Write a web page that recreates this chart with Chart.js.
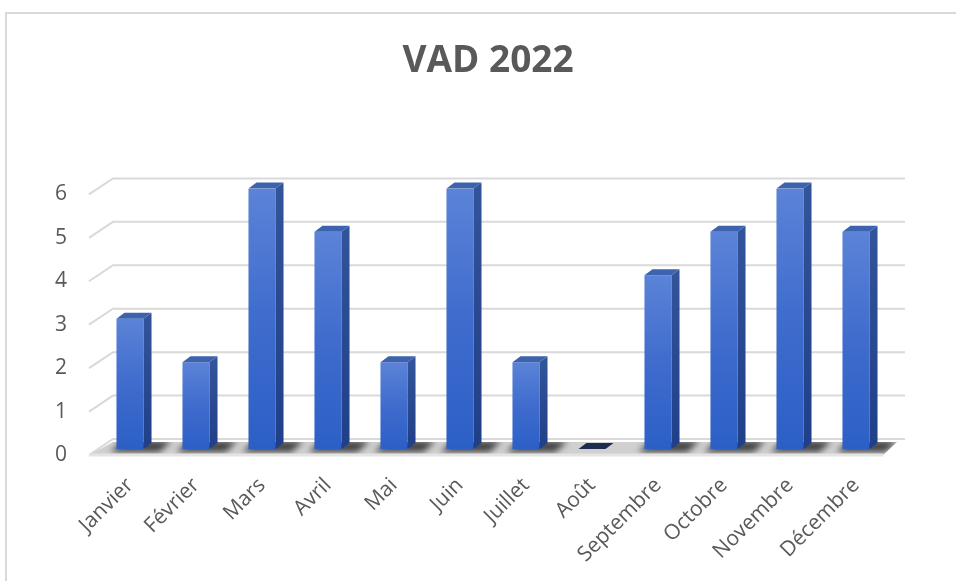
<!DOCTYPE html>
<html>
<head>
<meta charset="utf-8">
<script src="https://cdn.jsdelivr.net/npm/chart.js@4"></script>
<style>
  html, body { margin: 0; padding: 0; background: #fff; overflow: hidden; }
  #frame { position: absolute; left: 5px; top: 12px; width: 1200px; height: 800px; border: 2px solid #d9d9d9; }
  #wrap { position: absolute; left: 0; top: 0; width: 956px; height: 581px; }
</style>
</head>
<body>
<div id="frame"></div>
<div id="wrap"><canvas id="chart" width="956" height="581"></canvas></div>
<script>
const categories = ['Janvier', 'Février', 'Mars', 'Avril', 'Mai', 'Juin', 'Juillet', 'Août', 'Septembre', 'Octobre', 'Novembre', 'Décembre'];
const vadValues = [3, 2, 6, 5, 2, 6, 2, 0, 4, 5, 6, 5];
const yTicks = [0, 1, 2, 3, 4, 5, 6];

const TEXT = '#595959';
const GRID = '#d9d9d9';

// 3d look: bar depth and wall depth offsets
const BAR_DX = 8, BAR_DY = 6;
const FRONT_DX = -8, FRONT_DY = 6;
const BACK_DX = 16, BACK_DY = -10;

const frontFill = (ctx) => {
  const chart = ctx.chart;
  const y = chart.scales.y;
  if (!y || !ctx.parsed) return '#3d6bcc';
  const top = y.getPixelForValue(ctx.parsed.y);
  const base = y.getPixelForValue(0);
  if (!isFinite(top) || !isFinite(base)) return '#3d6bcc';
  const g = chart.ctx.createLinearGradient(0, top, 0, Math.max(base, top + 1));
  g.addColorStop(0, '#5b83d7');
  g.addColorStop(0.5, '#3f6ccd');
  g.addColorStop(1, '#2c5fc6');
  return g;
};

const floorPath = (ctx, left, right, y0) => {
  ctx.beginPath();
  ctx.moveTo(left + FRONT_DX, y0 + FRONT_DY);
  ctx.lineTo(right - 6, y0 + FRONT_DY);
  ctx.lineTo(right + 8, y0 + BACK_DY + 3);
  ctx.lineTo(left + BACK_DX, y0 + BACK_DY + 3);
  ctx.closePath();
};

// back wall grid lines and floor, drawn with the y scale
const wallPlugin = {
  id: 'wall',
  beforeDatasetsDraw(chart) {
    const { ctx, chartArea, scales } = chart;
    const left = chartArea.left, right = chartArea.right;
    const y0 = scales.y.getPixelForValue(0);
    ctx.save();

    // grid lines
    ctx.strokeStyle = GRID;
    ctx.lineWidth = 2;
    yTicks.forEach((v) => {
      const yy = scales.y.getPixelForValue(v);
      ctx.beginPath();
      ctx.moveTo(left + FRONT_DX, yy + FRONT_DY);
      ctx.lineTo(left + BACK_DX, yy + BACK_DY);
      ctx.lineTo(right + BACK_DX, yy + BACK_DY);
      ctx.stroke();
    });

    // floor
    floorPath(ctx, left, right, y0);
    ctx.fillStyle = '#d0d0d0';
    ctx.fill();

    // bar shadows on the floor
    const meta = chart.getDatasetMeta(0);
    ctx.save();
    floorPath(ctx, left, right, y0);
    ctx.clip();
    ctx.filter = 'blur(3px)';
    ctx.fillStyle = 'rgba(50,50,50,0.9)';
    meta.data.forEach((bar, i) => {
      if (!vadValues[i]) return;
      const hw = bar.width / 2;
      ctx.beginPath();
      ctx.moveTo(bar.x - hw - 6, y0 + 3);
      ctx.lineTo(bar.x + hw + 16, y0 + 3);
      ctx.lineTo(bar.x + hw + 28, y0 - 8);
      ctx.lineTo(bar.x - hw + 6, y0 - 8);
      ctx.closePath();
      ctx.fill();
    });
    ctx.restore();

    // front edge of floor
    ctx.strokeStyle = '#e4e4e4';
    ctx.lineWidth = 3;
    ctx.beginPath();
    ctx.moveTo(left + FRONT_DX, y0 + FRONT_DY);
    ctx.lineTo(right - 6, y0 + FRONT_DY);
    ctx.stroke();
    ctx.restore();
  }
};

// top and side faces of the bars
const barDepthPlugin = {
  id: 'barDepth',
  afterDatasetsDraw(chart) {
    const { ctx } = chart;
    const meta = chart.getDatasetMeta(0);
    ctx.save();
    meta.data.forEach((bar, i) => {
      const hw = bar.width / 2;
      const x1 = bar.x - hw, x2 = bar.x + hw;
      const top = bar.y, base = bar.base;

      if (base - top > 0.5) {
        const sg = ctx.createLinearGradient(0, top, 0, base);
        sg.addColorStop(0, '#32549a');
        sg.addColorStop(1, '#1f3f88');
        ctx.fillStyle = sg;
        ctx.beginPath();
        ctx.moveTo(x2, top);
        ctx.lineTo(x2 + BAR_DX, top - BAR_DY);
        ctx.lineTo(x2 + BAR_DX, base - BAR_DY);
        ctx.lineTo(x2, base);
        ctx.closePath();
        ctx.fill();
      }

      ctx.fillStyle = vadValues[i] ? '#3d62ae' : '#1d2b4f';
      ctx.beginPath();
      ctx.moveTo(x1, top);
      ctx.lineTo(x1 + BAR_DX, top - BAR_DY);
      ctx.lineTo(x2 + BAR_DX, top - BAR_DY);
      ctx.lineTo(x2, top);
      ctx.closePath();
      ctx.fill();
    });
    ctx.restore();
  }
};

new Chart(document.getElementById('chart'), {
  type: 'bar',
  data: {
    labels: categories,
    datasets: [{
      label: 'VAD 2022',
      data: vadValues,
      backgroundColor: frontFill,
      borderWidth: 0,
      categoryPercentage: 1,
      barPercentage: 0.41,
    }]
  },
  options: {
    responsive: false,
    animation: false,
    layout: { padding: { left: 20, right: 0, top: 0, bottom: 0 } },
    plugins: {
      legend: { display: false },
      tooltip: { enabled: false },
      title: {
        display: true,
        text: 'VAD 2022',
        color: TEXT,
        font: { family: "'Open Sans', sans-serif", size: 37, weight: 'bold' },
        padding: { top: 39, bottom: 105 },
      },
    },
    scales: {
      x: {
        grid: { display: false },
        border: { display: false },
        ticks: {
          color: TEXT,
          font: { family: "'Open Sans', sans-serif", size: 21 },
          minRotation: 45,
          maxRotation: 45,
          padding: 16,
        },
        afterFit(scale) { scale.height = 132; },
      },
      y: {
        min: 0,
        max: 6,
        grid: { display: false },
        border: { display: false },
        ticks: {
          stepSize: 1,
          color: TEXT,
          font: { family: "'Open Sans', sans-serif", size: 21 },
          padding: 22,
          labelOffset: 6,
        },
        afterFit(scale) { scale.width = 77; },
      },
      // empty right-side axis, only to reserve the space right of the plot
      yRight: {
        position: 'right',
        grid: { display: false },
        border: { display: false },
        ticks: { display: false },
        afterFit(scale) { scale.width = 67; },
      },
    },
  },
  plugins: [wallPlugin, barDepthPlugin],
});
</script>
</body>
</html>
